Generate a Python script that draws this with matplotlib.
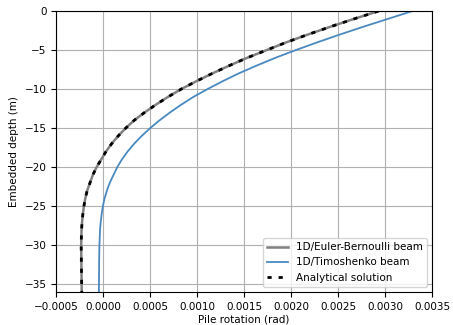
import matplotlib
matplotlib.use("Agg")
import matplotlib.pyplot as plt

depth = [0, -1, -2, -3, -4, -5, -6, -7, -8, -9, -10, -11, -12, -13, -14, -15,
         -16, -17, -18, -19, -20, -21, -22, -23, -24, -25, -26, -27, -28, -30, -32, -34, -36]
rot_eb = [0.00293, 0.00267, 0.00242, 0.00218, 0.00195, 0.00174, 0.00153, 0.00134,
          0.00116, 0.00099, 0.00083, 0.00069, 0.00056, 0.00044, 0.00033, 0.00024,
          0.00016, 0.00009, 0.00003, -0.00002, -0.00007, -0.00011, -0.00014,
          -0.00017, -0.00019, -0.000205, -0.000216, -0.000224, -0.00023, -0.000234,
          -0.000232, -0.00023, -0.000228]
rot_timo = [0.00329, 0.00303, 0.00277, 0.00252, 0.00228, 0.00205, 0.00183, 0.00163,
            0.00144, 0.00127, 0.00111, 0.00096, 0.00083, 0.00071, 0.00060, 0.00050,
            0.00041, 0.00033, 0.00026, 0.00020, 0.00015, 0.00011, 0.00007,
            0.00004, 0.000015, -0.000003, -0.000016, -0.000026, -0.000033, -0.00004,
            -0.000043, -0.000044, -0.000045]
rot_analytical = rot_eb

fig = plt.figure(figsize=(4.53, 3.25), dpi=100)
ax = fig.add_axes([0.124, 0.1015, 0.83, 0.8645])
ax.plot(rot_eb, depth, color='gray', lw=1.8, label='1D/Euler-Bernoulli beam')
ax.plot(rot_timo, depth, color='#4a89c0', lw=1.3, label='1D/Timoshenko beam')
ax.plot(rot_analytical, depth, color='black', lw=2, ls=(0, (1.5, 2.5)), label='Analytical solution')
ax.set_xlim(-0.0005, 0.0035)
ax.set_ylim(-36, 0)
ax.set_xticks([-0.0005, 0.0, 0.0005, 0.0010, 0.0015, 0.0020, 0.0025, 0.0030, 0.0035])
ax.set_xticklabels(['−0.0005', '0.0000', '0.0005', '0.0010', '0.0015', '0.0020', '0.0025', '0.0030', '0.0035'])
ax.grid(True)
ax.tick_params(labelsize=7.5)
ax.set_xlabel('Pile rotation (rad)', fontsize=7.5, labelpad=2)
ax.set_ylabel('Embedded depth (m)', fontsize=7.5)
ax.legend(loc='lower right', fontsize=7.5)
fig.savefig('out.png', dpi=100)
